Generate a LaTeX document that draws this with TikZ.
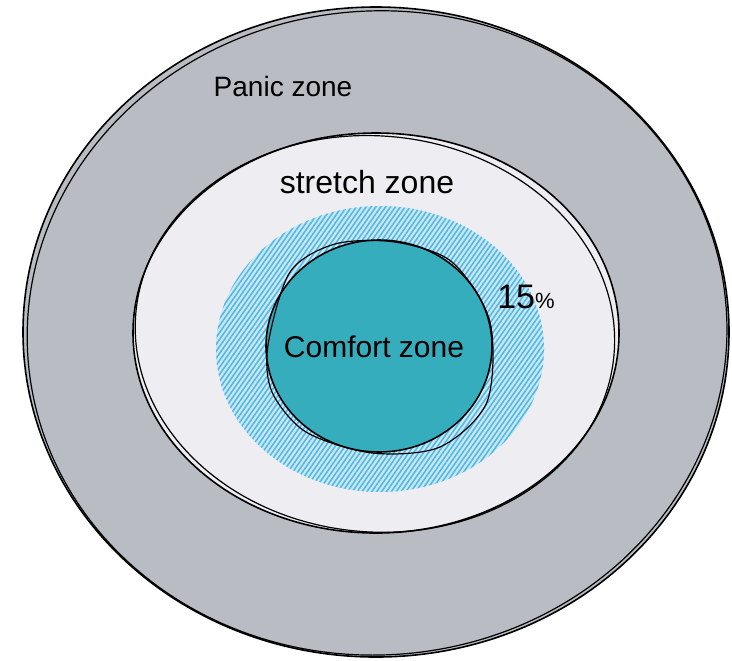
\documentclass[tikz,border=0pt]{standalone}
\usepackage{fontspec}
\setmainfont{Liberation Sans}
\usetikzlibrary{patterns.meta}
\definecolor{panicgrey}{HTML}{B9BDC3}
\definecolor{stretchgrey}{HTML}{EEEEF2}
\definecolor{comfortteal}{HTML}{36ADBC}
\definecolor{hatchblue}{HTML}{52B9E6}
\definecolor{hatchlight}{HTML}{CBE8F5}
\begin{document}
\begin{tikzpicture}[x=0.5pt, y=-0.5pt, line join=round]
        \useasboundingbox (0,0) rectangle (732,660);
        % panic zone
        \draw[line width=0.8pt, fill=panicgrey] (376,332) ellipse [x radius=353, y radius=325];
        \draw[line width=0.6pt, rotate around={4:(376,332)}] (377,333) ellipse [x radius=350, y radius=322];
        % stretch zone
        \draw[line width=0.8pt, fill=stretchgrey] (376,333) ellipse [x radius=243, y radius=200];
        \draw[line width=0.6pt, rotate around={-5:(376,333)}] (375,334) ellipse [x radius=240, y radius=198];
        % hatched ring
        \fill[hatchlight] (380,349) ellipse [x radius=164, y radius=143];
        \fill[pattern={Lines[angle=55, distance=2pt, line width=0.8pt]}, pattern color=hatchblue] (380,349) ellipse [x radius=164, y radius=143];
        % comfort zone
        \draw[line width=0.8pt, fill=comfortteal] (379,346) ellipse [x radius=113, y radius=106];
        \draw[line width=0.6pt] plot[smooth cycle] coordinates {(268,345) (290,272) (335,244) (395,242) (452,262) (490,322) (487,402) (440,447) (372,453) (306,432) (272,392)};
        % labels
        \node (panic) at (283,86) {\fontsize{14}{16}\selectfont Panic zone};
        \node (stretch) at (367,182) {\fontsize{16}{18}\selectfont stretch zone};
        \node (comfort) at (374,347) {\fontsize{15}{17}\selectfont Comfort zone};
        \node (pct) at (526,297) {\fontsize{17}{19}\selectfont 15{\fontsize{11}{12}\selectfont\%}};
    \end{tikzpicture}
\end{document}
